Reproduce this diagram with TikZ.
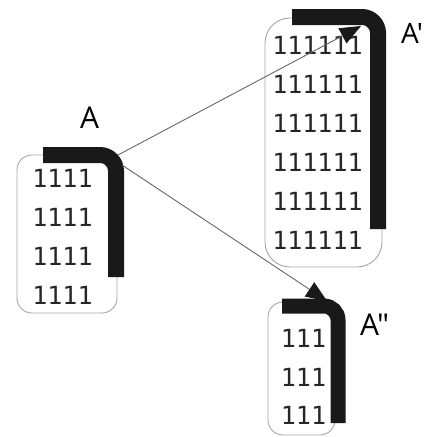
\documentclass[tikz,border=0pt]{standalone}
\usepackage{fontspec}
\setmainfont{Open Sans}
\newfontfamily\labelfont{Open Sans}
\newfontfamily\digitfont{DejaVu Sans Mono}
\usetikzlibrary{arrows.meta}
\begin{document}
\begin{tikzpicture}[x=1pt,y=-1pt,
  blockbox/.style={draw=black!35,line width=0.9pt,rectangle,inner sep=0pt},
  digits/.style={font=\digitfont\fontsize{25}{25}\selectfont,text=black!85,inner sep=0pt},
  label/.style={font=\labelfont\fontsize{30}{30}\selectfont,anchor=base west,inner sep=0pt},
  hook/.style={line width=16pt,black!90,rounded corners=16pt,line cap=butt},
  link/.style={draw=black!60,line width=0.9pt,
    -{Triangle[length=21pt,width=17pt,color=black!90]}}]
\useasboundingbox (0,0) rectangle (431,437);

% block A
\node[blockbox,rounded corners=15pt,minimum width=100pt,minimum height=158pt] (boxA) at (67,234) {};
\foreach \y [count=\i] in {178,217,256,295}
  \node[digits] (a\i) at (62.5,\y) {1111};
\draw[hook] (43,155) -- (116,155) -- (116,277);
\coordinate (Aup) at (118,155);
\coordinate (Adown) at (122,165);
\node[label] (labA) at (80,128) {A};

% block A'
\node[blockbox,rounded corners=25pt,minimum width=117pt,minimum height=249pt] (boxB) at (323.5,142.5) {};
\foreach \y [count=\i] in {45,84,123,162,201,240}
  \node[digits] (b\i) at (317.5,\y) {111111};
\draw[hook] (292,17) -- (378,17) -- (378,229);
\coordinate (Btip) at (361,26);
\node[label,font=\labelfont\fontsize{28}{28}\selectfont] (labB) at (401,43) {A'};

% block A''
\node[blockbox,rounded corners=15pt,minimum width=67pt,minimum height=133pt] (boxC) at (301.5,368.5) {};
\foreach \y [count=\i] in {338,377,415}
  \node[digits] (c\i) at (303.5,\y) {111};
\draw[hook,line width=15pt,rounded corners=14pt] (282,306) -- (338,306) -- (338,423);
\coordinate (Ctip) at (327,301);
\node[label] (labC) at (360,335) {A"};

% links
\draw[link] (Aup) -- (Btip);
\draw[link] (Adown) -- (Ctip);
\end{tikzpicture}
\end{document}
